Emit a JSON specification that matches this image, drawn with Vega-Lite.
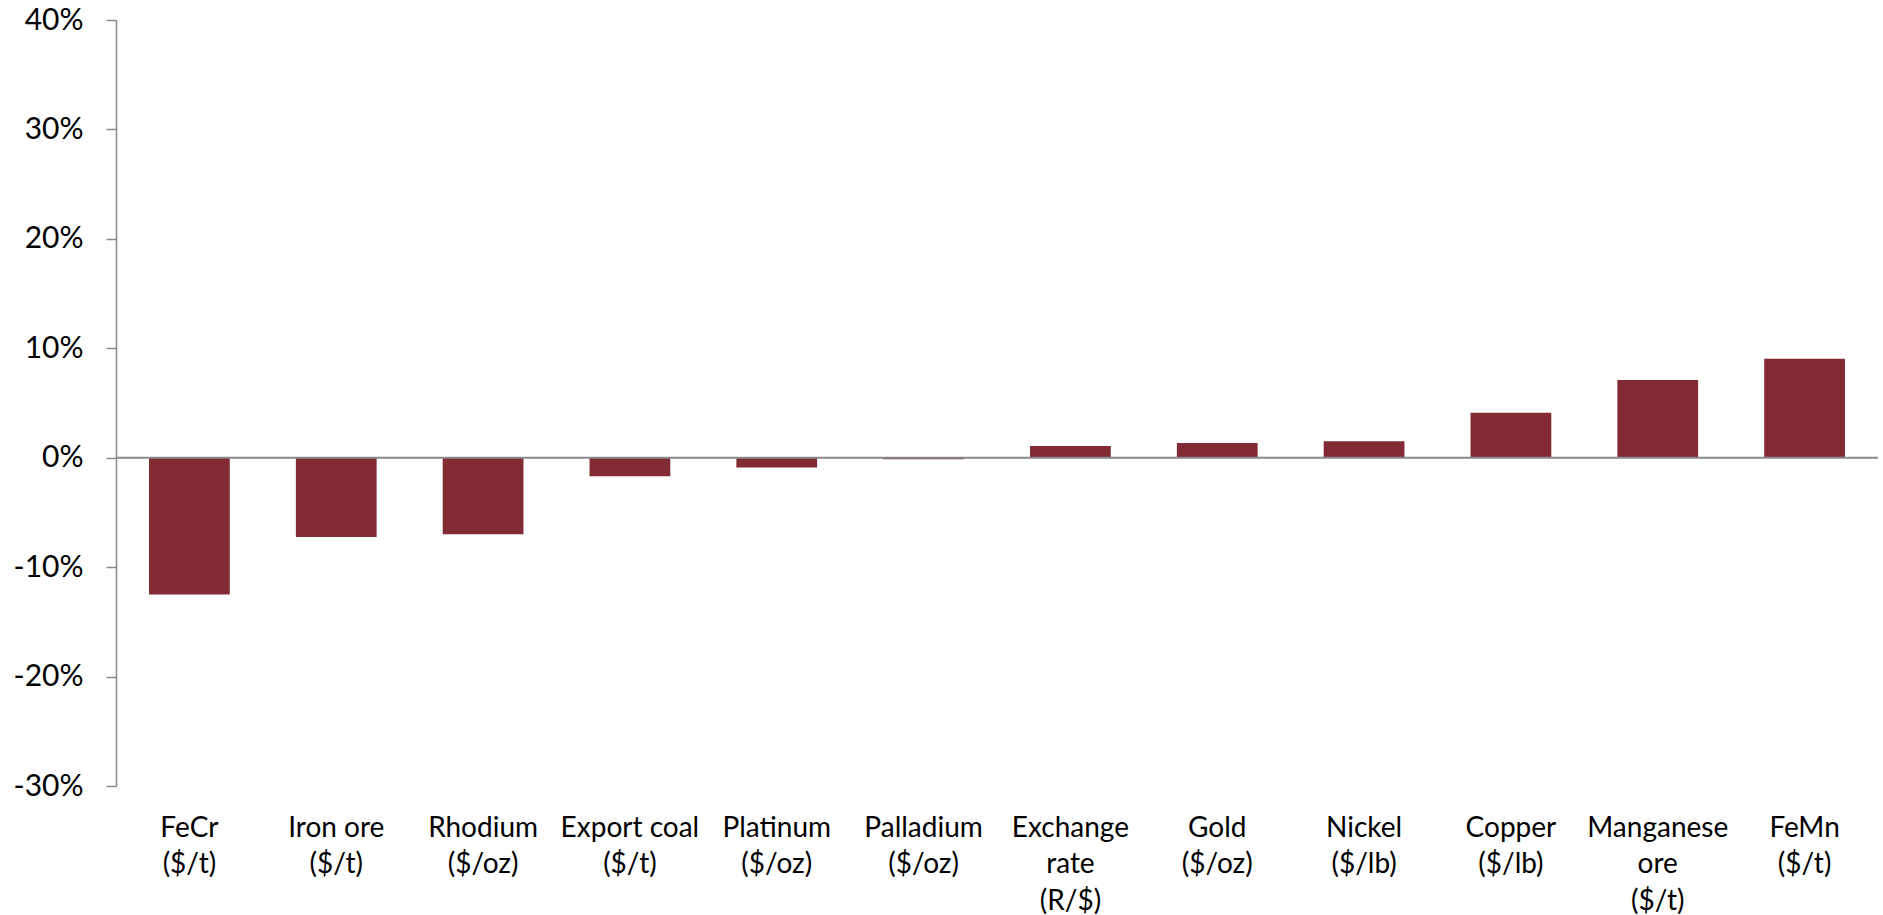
{
  "$schema": "https://vega.github.io/schema/vega-lite/v6.json",
  "autosize": "none",
  "padding": {"left": 116, "top": 20, "right": 5, "bottom": 129},
  "width": 1762,
  "height": 766,
  "background": "white",
  "config": {"view": {"stroke": null}, "font": "Lato"},
  "data": {
    "values": [
      {"item": "FeCr|($/t)", "change": -12.5},
      {"item": "Iron ore|($/t)", "change": -7.25},
      {"item": "Rhodium|($/oz)", "change": -7.0},
      {"item": "Export coal|($/t)", "change": -1.7},
      {"item": "Platinum|($/oz)", "change": -0.9},
      {"item": "Palladium|($/oz)", "change": -0.15},
      {"item": "Exchange|rate|(R/$)", "change": 1.07},
      {"item": "Gold|($/oz)", "change": 1.34},
      {"item": "Nickel|($/lb)", "change": 1.5},
      {"item": "Copper|($/lb)", "change": 4.1},
      {"item": "Manganese|ore|($/t)", "change": 7.1},
      {"item": "FeMn|($/t)", "change": 9.05}
    ]
  },
  "layer": [
    {
      "mark": {"type": "bar", "color": "#822B35"},
      "encoding": {
        "x": {
          "field": "item",
          "type": "nominal",
          "sort": null,
          "scale": {"paddingInner": 0.45, "paddingOuter": 0.225},
          "axis": {
            "title": null,
            "domain": false,
            "ticks": false,
            "tickSize": 0,
            "labelAngle": 0,
            "labelAlign": "center",
            "labelBaseline": "alphabetic",
            "labelPadding": 50,
            "labelFontSize": 28,
            "labelColor": "#000000",
            "labelLineHeight": 36.7,
            "labelExpr": "split(datum.label, '|')"
          }
        },
        "y": {
          "field": "change",
          "type": "quantitative",
          "scale": {"domain": [-30, 40], "nice": false, "zero": false},
          "axis": {
            "title": null,
            "grid": false,
            "values": [-30, -20, -10, 0, 10, 20, 30, 40],
            "domainColor": "#898989",
            "domainWidth": 1.5,
            "tickColor": "#898989",
            "tickWidth": 1.5,
            "tickSize": 10,
            "labelPadding": 23,
            "labelFontSize": 30,
            "labelColor": "#000000",
            "labelExpr": "(datum.value < 0 ? '-' : '') + abs(datum.value) + '%'"
          }
        }
      }
    },
    {
      "data": {"values": [{"zero": 0}]},
      "mark": {"type": "rule", "color": "#898989", "strokeWidth": 2},
      "encoding": {"y": {"field": "zero", "type": "quantitative"}}
    }
  ]
}
